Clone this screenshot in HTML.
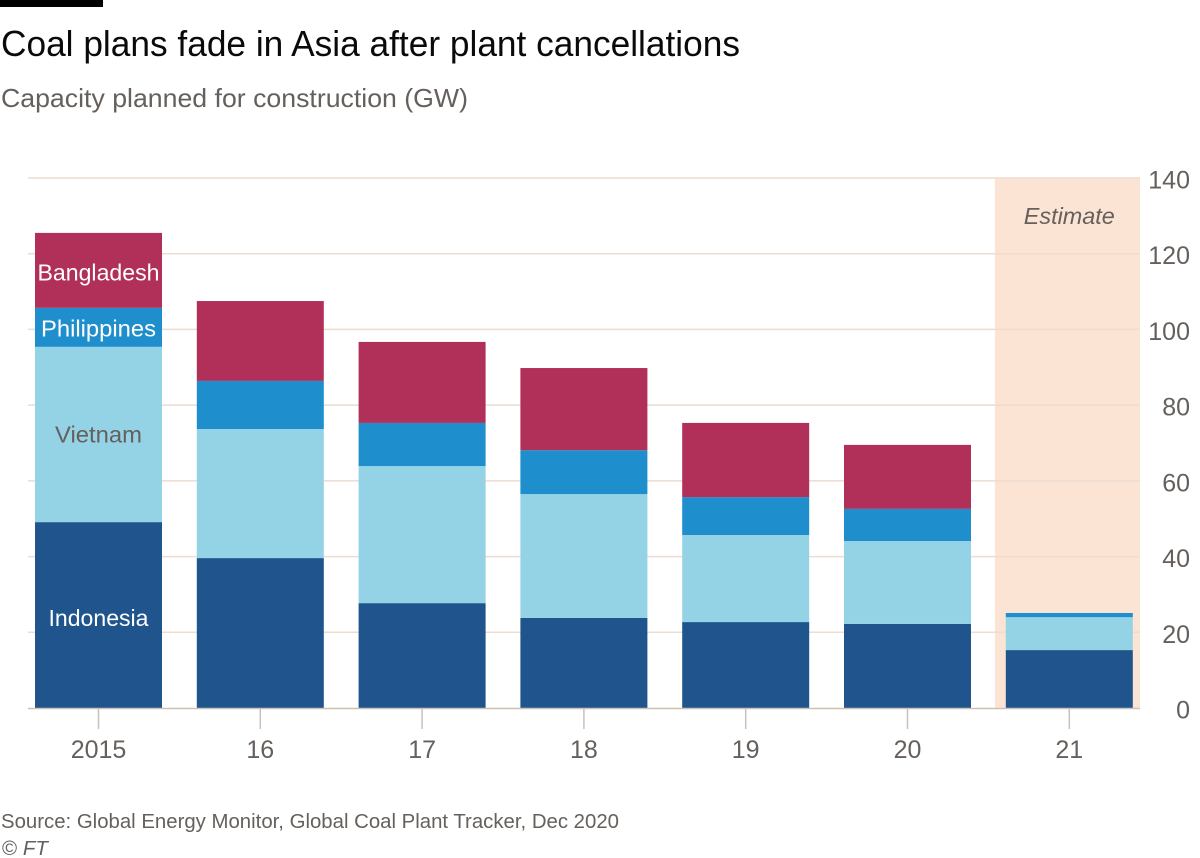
<!DOCTYPE html>
<html>
<head>
<meta charset="utf-8">
<style>
html,body{margin:0;padding:0;background:#fff;width:1200px;height:858px;overflow:hidden}
svg{display:block}
text{font-family:"Liberation Sans",sans-serif}
</style>
</head>
<body>
<svg id="chart" width="1200" height="858" viewBox="0 0 1200 858" xmlns="http://www.w3.org/2000/svg">
  <rect x="0" y="0" width="103" height="7" fill="#000"/>
  <text x="1" y="56" font-size="36" fill="#0a0a0a" textLength="739" lengthAdjust="spacingAndGlyphs">Coal plans fade in Asia after plant cancellations</text>
  <text x="1" y="107" font-size="26" fill="#66605c" textLength="467" lengthAdjust="spacingAndGlyphs">Capacity planned for construction (GW)</text>
  <g id="band"></g>
  <g id="grid"></g>
  <g id="bars"></g>
  <g id="xaxis"></g>
  <g id="yaxis"></g>
  <g id="labels"></g>
  <text x="1" y="828" font-size="20.5" fill="#66605c" textLength="618" lengthAdjust="spacingAndGlyphs">Source: Global Energy Monitor, Global Coal Plant Tracker, Dec 2020</text>
  <text x="2" y="855" font-size="20.5" fill="#66605c">© <tspan font-style="italic">FT</tspan></text>
</svg>
<script>
const categories = ['2015','16','17','18','19','20','21'];
const indonesia = [49.1,39.6,27.7,23.8,22.7,22.2,15.3];
const vietnam = [46.3,34.1,36.2,32.7,23.0,21.9,8.7];
const philippines = [10.3,12.7,11.4,11.6,10.0,8.5,1.1];
const bangladesh = [19.8,21.1,21.4,21.7,19.6,16.9,0];
const yTicks = [0,20,40,60,80,100,120,140];
const estimateCategory = '21';
const estimateLabel = 'Estimate';

const seriesNames = ['Indonesia','Vietnam','Philippines','Bangladesh'];
const seriesValues = [indonesia,vietnam,philippines,bangladesh];
const seriesColors = ['#1f558c','#94d2e6','#1f8ecd','#b03059'];
const labelColors = ['#ffffff','#66605c','#ffffff','#ffffff'];
const labelWidths = [100,87,115,122];
const labelNudges = [3,0,1,2];

const NS = 'http://www.w3.org/2000/svg';
const plotLeft = 28, plotRight = 1140, y0 = 708, y140 = 178;
const firstCenter = 98.5, step = 161.8, barWidth = 127;
const yMax = yTicks[yTicks.length-1];

function yScale(v){ return y0 - (v/yMax)*(y0-y140); }
function xScale(i){ return firstCenter + step*i; }

function make(tag, attrs, parent, txt){
  const el = document.createElementNS(NS, tag);
  for (const k in attrs) el.setAttribute(k, attrs[k]);
  if (txt !== undefined) el.textContent = txt;
  parent.appendChild(el);
  return el;
}

const bandG = document.getElementById('band');
const gridG = document.getElementById('grid');
const barsG = document.getElementById('bars');
const xG = document.getElementById('xaxis');
const yG = document.getElementById('yaxis');
const labelsG = document.getElementById('labels');

/* estimate band */
const estIdx = categories.indexOf(estimateCategory);
const bandLeft = xScale(estIdx) - step/2 + 6.5;
const band = make('rect',{x:bandLeft,y:y140,width:plotRight-bandLeft,height:y0-y140,fill:'#fce4d4'},bandG);



/* gridlines and y ticks */
yTicks.forEach(function(t){
  if (t !== 0) {
    const line = make('line',{x1:plotLeft,x2:plotRight,y1:yScale(t),y2:yScale(t),stroke:'#ecdcd2','stroke-width':1.5},gridG);
    
    
  }
  const lab = make('text',{x:1190,y:yScale(t)+10.5,'text-anchor':'end','font-size':25,fill:'#66605c'},yG,String(t));
  
  
});

/* stacked bars */
categories.forEach(function(c,i){
  let cum = 0;
  seriesValues.forEach(function(vals,s){
    const v = vals[i];
    if (v > 0) {
      const top = yScale(cum+v), bottom = yScale(cum);
      const r = make('rect',{x:xScale(i)-barWidth/2,y:top,width:barWidth,height:bottom-top,fill:seriesColors[s]},barsG);
      
      
    }
    cum += v;
  });
});

/* x axis */
const axis = make('line',{x1:plotLeft,x2:plotRight,y1:y0+0.5,y2:y0+0.5,stroke:'#ccc1b7','stroke-width':1.5},xG);


categories.forEach(function(c,i){
  const tick = make('line',{x1:xScale(i),x2:xScale(i),y1:y0,y2:y0+21,stroke:'#ccc1b7','stroke-width':1.5},xG);
  
  
  const lab = make('text',{x:xScale(i),y:y0+50,'text-anchor':'middle','font-size':25,fill:'#66605c'},xG,c);
  
  
});

/* direct labels on the first bar */
let cumLabel = 0;
seriesValues.forEach(function(vals,s){
  const v = vals[0];
  const mid = yScale(cumLabel + v/2);
  const t = make('text',{x:xScale(0),y:mid+8+labelNudges[s],'text-anchor':'middle','font-size':23,fill:labelColors[s],textLength:labelWidths[s],lengthAdjust:'spacingAndGlyphs'},labelsG,seriesNames[s]);
  
  
  cumLabel += v;
});

const est = make('text',{x:xScale(estIdx),y:224,'text-anchor':'middle','font-size':23,'font-style':'italic',fill:'#66605c',textLength:91,lengthAdjust:'spacingAndGlyphs'},labelsG,estimateLabel);


</script>
</body>
</html>
